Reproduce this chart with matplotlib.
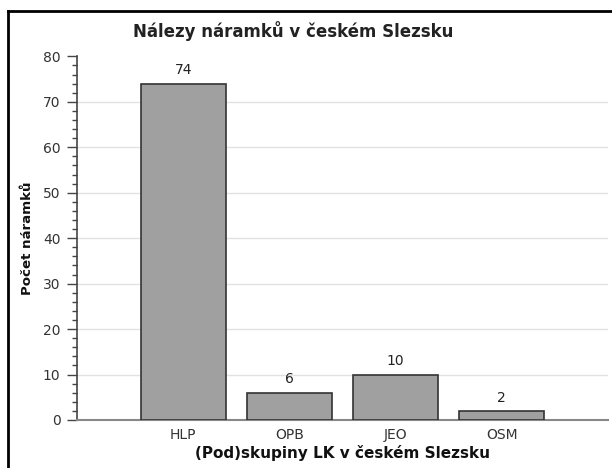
import numpy as np
import matplotlib.pyplot as plt
from matplotlib.lines import Line2D
from matplotlib.ticker import MultipleLocator

groups = ["HLP", "OPB", "JEO", "OSM"]
counts = [74, 6, 10, 2]

title = "Nálezy náramků v českém Slezsku"
xlabel = "(Pod)skupiny LK v českém Slezsku"
ylabel = "Počet náramků"


def main():
    fig = plt.figure(figsize=(6.12, 4.68), dpi=100)
    ax = fig.add_axes([0.126, 0.1026, 0.867, 0.777])

    x = np.arange(len(groups))
    bars = ax.bar(x, counts, width=0.8, color="#a0a0a0", edgecolor="#333333",
                  linewidth=1.2, zorder=3)
    ax.bar_label(bars, labels=[str(c) for c in counts], padding=4.5,
                 fontsize=10, color="#222222")

    ax.set_xlim(-1, 4)
    ax.set_ylim(0, 80)
    ax.set_xticks(x)
    ax.set_xticklabels(groups)
    ax.yaxis.set_major_locator(MultipleLocator(10))
    ax.yaxis.set_minor_locator(MultipleLocator(2))

    for side in ("top", "right"):
        ax.spines[side].set_visible(False)
    ax.spines["left"].set_color("#444444")
    ax.spines["left"].set_linewidth(1.2)
    ax.spines["bottom"].set_color("#888888")
    ax.spines["bottom"].set_linewidth(1.5)

    ax.tick_params(axis="y", which="major", length=7, width=1, color="#444444",
                   labelsize=10, labelcolor="#333333", pad=5)
    ax.tick_params(axis="y", which="minor", length=3.5, width=1, color="#444444")
    ax.tick_params(axis="x", length=0, labelsize=10, labelcolor="#333333", pad=6)

    ax.yaxis.grid(True, color="#e2e2e2", linewidth=1, zorder=0)
    ax.set_axisbelow(True)
    for val, tick in zip(ax.get_yticks(), ax.yaxis.get_major_ticks()):
        if val <= 0 or val >= 80:
            tick.gridline.set_visible(False)

    ax.set_title(title, fontsize=12, fontweight="bold", color="#222222",
                 pad=14, x=0.407)
    ax.set_xlabel(xlabel, fontsize=11, fontweight="bold", color="#111111", labelpad=2)
    ax.set_ylabel(ylabel, fontsize=9.6, fontweight="bold", color="#111111", labelpad=6)

    # outer frame (top and left edges visible)
    fig.add_artist(Line2D([8 / 612, 1.0], [1 - 11 / 468, 1 - 11 / 468],
                          color="black", linewidth=2, transform=fig.transFigure))
    fig.add_artist(Line2D([8 / 612, 8 / 612], [0.0, 1 - 11 / 468],
                          color="black", linewidth=2, transform=fig.transFigure))

    fig.savefig("out.png", dpi=100)
    plt.close(fig)


if __name__ == "__main__":
    main()
